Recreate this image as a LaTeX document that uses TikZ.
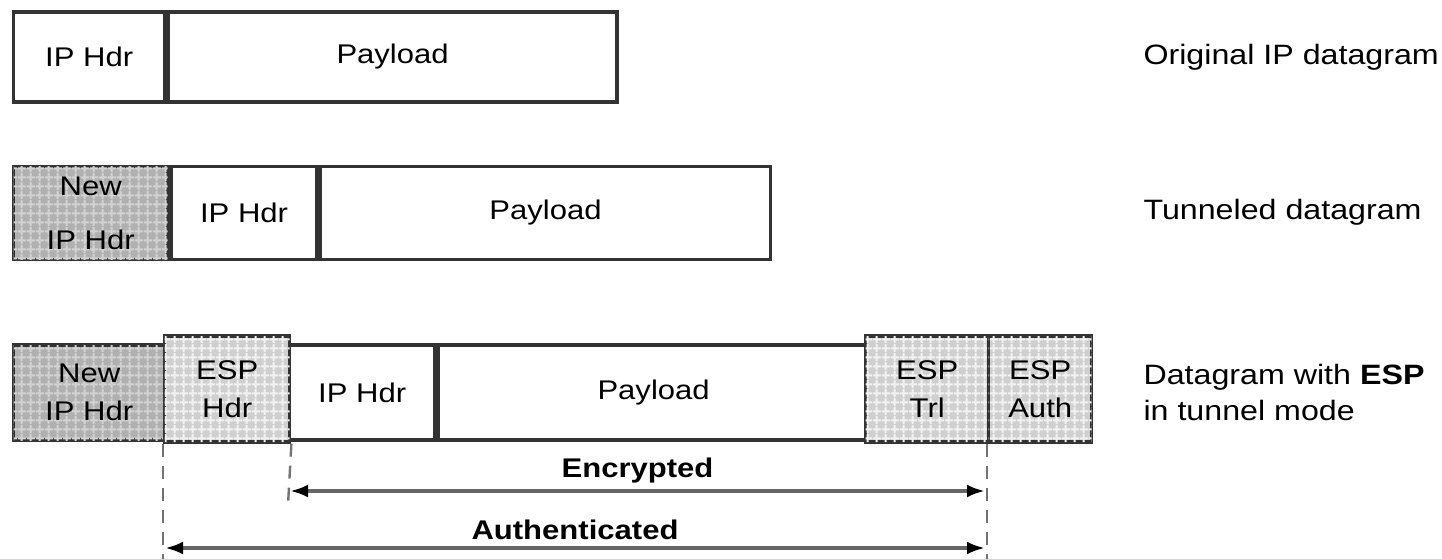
\documentclass[tikz,border=0pt]{standalone}
\usepackage{fontspec}
\setmainfont{Liberation Sans}[FakeStretch=1.15]
\usetikzlibrary{arrows.meta,patterns}
\pgfdeclarepatternformonly{cellgrid}{\pgfqpoint{0pt}{0pt}}{\pgfqpoint{9pt}{9pt}}{\pgfqpoint{9pt}{9pt}}{%
  \pgfpathrectangle{\pgfqpoint{0pt}{3pt}}{\pgfqpoint{9pt}{2.2pt}}%
  \pgfpathrectangle{\pgfqpoint{3pt}{0pt}}{\pgfqpoint{2.2pt}{9pt}}%
  \pgfusepath{fill}}
\tikzset{
  cell/.style={draw=black!80, line width=3.4pt, inner sep=0pt, anchor=west,
    font=\fontsize{27}{30}\selectfont, align=center},
  newhdr/.style={cell, fill=gray!62, postaction={pattern=cellgrid, pattern color=gray!35}},
  espcell/.style={cell, fill=gray!38, postaction={pattern=cellgrid, pattern color=gray!10}},
  guide/.style={draw=black!55, line width=2.4pt, dash pattern=on 13pt off 9pt},
  span/.style={{Latex[length=18pt,width=13pt,color=black]}-{Latex[length=18pt,width=13pt,color=black]},
    draw=black!60, line width=4pt},
  spanlbl/.style={font=\bfseries\fontsize{27}{30}\selectfont, above=3pt},
  lbl/.style={anchor=west, font=\fontsize{28}{36}\selectfont, align=left}
}
\begin{document}
\begin{tikzpicture}[x=1pt,y=-1pt]
\useasboundingbox (0,0) rectangle (1442,559);
% Row 1
\node[cell, minimum width=151pt, minimum height=90pt] (o_ip) at (12,57) {IP Hdr};
\node[cell, minimum width=449pt, minimum height=90pt] (o_pl) at (o_ip.east) {Payload};
% Row 2
\node[newhdr, minimum width=154pt, minimum height=93pt] (t_new) at (12,213) {New\\[24pt]IP Hdr};
\node[cell, minimum width=146pt, minimum height=93pt] (t_ip) at (t_new.east) {IP Hdr};
\node[cell, minimum width=450pt, minimum height=93pt] (t_pl) at (t_ip.east) {Payload};
% Row 3
\node[newhdr, minimum width=151pt, minimum height=95pt] (e_new) at (12,392.5) {New\\[8pt]IP Hdr};
\node[cell, minimum width=145pt, minimum height=95pt] (e_ip) at (288,392.5) {IP Hdr};
\node[cell, minimum width=431pt, minimum height=95pt] (e_pl) at (e_ip.east) {Payload};
\node[espcell, minimum width=125pt, minimum height=106pt] (e_esph) at (163,389) {ESP\\[8pt]Hdr};
\node[espcell, minimum width=123pt, minimum height=106pt] (e_trl) at (864,389) {ESP\\[8pt]Trl};
\node[espcell, minimum width=103pt, minimum height=106pt] (e_auth) at (987,389) {ESP\\[8pt]Auth};
% guides
\coordinate (dA) at (163,559);
\coordinate (dB) at (288,505);
\coordinate (dC) at (987,559);
\draw[guide] (e_esph.south west) -- (dA);
\draw[guide] (e_esph.south east) -- (dB);
\draw[guide] (e_auth.south west) -- (dC);
% spans
\coordinate (encL) at (290,491);
\coordinate (encR) at (985,491);
\coordinate (autL) at (165,548);
\coordinate (autR) at (985,548);
\draw[span] (encL) -- (encR) node[midway, spanlbl] (enc) {Encrypted};
\draw[span] (autL) -- (autR) node[midway, spanlbl] (aut) {Authenticated};
% right labels
\node[lbl] (l1) at (1140,57) {Original IP datagram};
\node[lbl] (l2) at (1140,212) {Tunneled datagram};
\node[lbl] (l3) at (1140,392) {Datagram with \textbf{ESP}\\in tunnel mode};
\end{tikzpicture}
\end{document}
